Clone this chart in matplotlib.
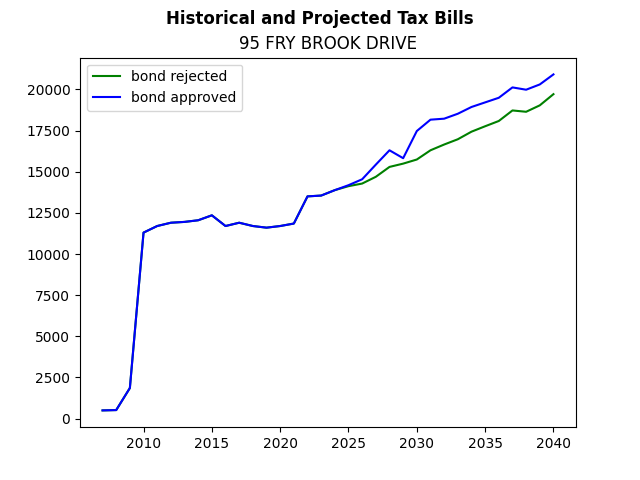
import matplotlib
matplotlib.use("Agg")
import matplotlib.pyplot as plt

# Годы и налоговые счета
years = list(range(2007, 2041))

bond_rejected = [500, 520, 1860, 11300, 11700, 11900, 11950, 12050, 12350,
                 11700, 11900, 11700, 11600, 11700, 11850, 13500, 13550,
                 13880, 14120, 14280, 14690, 15290, 15490, 15740, 16300,
                 16650, 16970, 17430, 17760, 18080, 18720, 18640, 19030,
                 19710]

bond_approved = [500, 520, 1860, 11300, 11700, 11900, 11950, 12050, 12350,
                 11700, 11900, 11700, 11600, 11700, 11850, 13500, 13550,
                 13880, 14180, 14540, 15430, 16300, 15820, 17470, 18160,
                 18220, 18520, 18930, 19210, 19490, 20120, 19980, 20300,
                 20910]

fig, ax = plt.subplots(figsize=(6.4, 4.8), dpi=100)

ax.plot(years, bond_rejected, "g", label="bond rejected")
ax.plot(years, bond_approved, "b", label="bond approved")
fig.suptitle("Historical and Projected Tax Bills", fontweight="bold")
ax.set_title("95 FRY BROOK DRIVE")
ax.legend(loc="upper left")

plt.savefig("out.png")
